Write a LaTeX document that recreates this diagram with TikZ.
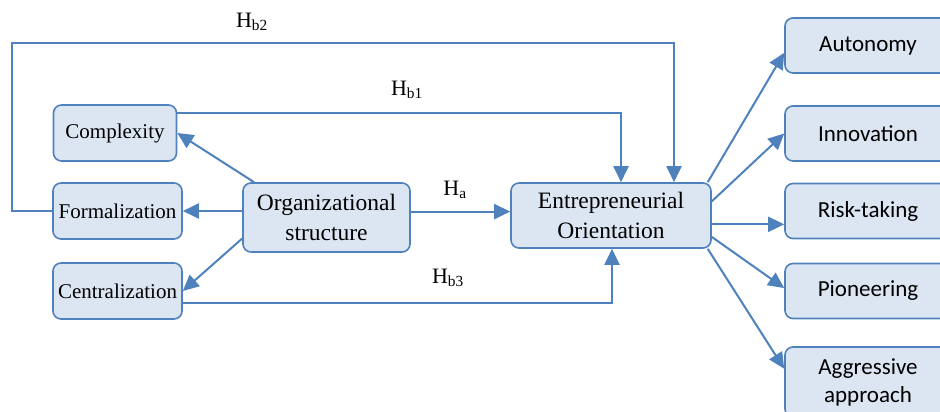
\documentclass[tikz,border=0pt]{standalone}
\usepackage{fontspec}
\setmainfont{Liberation Serif}
\newfontfamily\calibri{Carlito}
\usetikzlibrary{arrows.meta}

\definecolor{lineblue}{HTML}{4F81BD}
\definecolor{boxfill}{HTML}{DCE6F2}

\tikzset{
  box/.style={draw=lineblue, fill=boxfill, line width=1.6pt, rounded corners=8pt,
    align=center, inner sep=0pt},
  sidebox/.style={box, minimum width=129pt, minimum height=56pt,
    font=\fontsize{21}{24}\selectfont},
  mainbox/.style={box, font=\fontsize{23.5}{30}\selectfont},
  dimbox/.style={box, minimum width=166pt, minimum height=55pt,
    font=\calibri\fontsize{23}{28}\selectfont},
  hlabel/.style={font=\fontsize{22}{24}\selectfont},
  arr/.style={draw=lineblue, line width=2pt, -{Triangle[length=16pt,width=15pt]}},
}

\begin{document}
\begin{tikzpicture}[x=1pt, y=-1pt]
  \clip (0,0) rectangle (940,412);

  % organizational structure side
  \node[sidebox, minimum width=123pt] (comp) at (115,133) {Complexity};
  \node[sidebox] (form) at (117.5,211) {Formalization};
  \node[sidebox] (cent) at (117.5,291) {Centralization};
  \node[mainbox, minimum width=167pt, minimum height=69pt] (org) at (326.5,217.5) {Organizational\\structure};

  % entrepreneurial orientation side
  \node[mainbox, minimum width=200pt, minimum height=65pt] (eo) at (611,215.5) {Entrepreneurial\\Orientation};
  \node[dimbox] (aut) at (868,45.5) {Autonomy};
  \node[dimbox] (inn) at (868,133.5) {Innovation};
  \node[dimbox] (risk) at (868,211) {Risk-taking};
  \node[dimbox] (pion) at (868,291) {Pioneering};
  \node[dimbox, minimum height=70pt] (aggr) at (868,382) {Aggressive\\approach};

  \draw[arr] (org.154) -- (comp.east);
  \draw[arr] (org.west |- form.east) -- (form.east);
  \draw[arr] (org.-166) -- (cent.east);

  \draw[arr] (eo.19.7) -- (aut.-175.5);
  \draw[arr] (eo.8) -- (inn.west);
  \draw[arr] (eo.-5.4) -- (eo.-5.4 -| risk.west);
  \draw[arr] (eo.-12.7) -- (pion.178);
  \draw[arr] (eo.-19.5) -- (aggr.171.8);

  % hypotheses
  \coordinate (loop) at (12,43);
  \draw[arr] (org.4.5) -- (org.4.5 -| eo.west);
  \draw[arr] (comp.18) -| ([xshift=10pt]eo.north);
  \draw[arr] (form.west) -| (loop) -| ([xshift=63pt]eo.north);
  \draw[arr] (cent.-10.5) -| ([xshift=1pt]eo.south);

  \node[hlabel] (ha) at (455,190) {H\textsubscript{a}};
  \node[hlabel] (hb1) at (407,90) {H\textsubscript{b1}};
  \node[hlabel] (hb2) at (252,22) {H\textsubscript{b2}};
  \node[hlabel] (hb3) at (448,278) {H\textsubscript{b3}};
\end{tikzpicture}
\end{document}
